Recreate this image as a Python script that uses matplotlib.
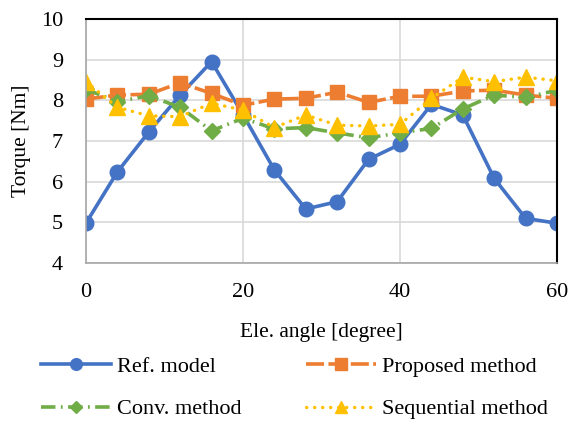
import numpy as np
import matplotlib
matplotlib.use("Agg")
import matplotlib.pyplot as plt

# data
angle = [0, 4, 8, 12, 16, 20, 24, 28, 32, 36, 40, 44, 48, 52, 56, 60]
ref_model = [4.98, 6.24, 7.22, 8.13, 8.95, 7.65, 6.29, 5.33, 5.51, 6.55, 6.92, 7.90, 7.64, 6.08, 5.10, 4.98]
proposed = [8.03, 8.13, 8.15, 8.43, 8.17, 7.88, 8.03, 8.05, 8.20, 7.95, 8.10, 8.10, 8.23, 8.25, 8.13, 8.05]
conv = [8.27, 7.97, 8.11, 7.83, 7.25, 7.56, 7.30, 7.33, 7.20, 7.08, 7.20, 7.31, 7.79, 8.13, 8.07, 8.25]
sequential = [8.46, 7.83, 7.62, 7.60, 7.93, 7.76, 7.33, 7.64, 7.39, 7.37, 7.41, 8.05, 8.57, 8.46, 8.57, 8.48]

x_ticks = [0, 20, 40, 60]
y_ticks = [4, 5, 6, 7, 8, 9, 10]

plt.rcParams['font.family'] = ['Liberation Serif', 'DejaVu Serif']
plt.rcParams['font.size'] = 16

fig = plt.figure(figsize=(5.69, 4.21), dpi=100)
ax = fig.add_axes([0.151, 0.375, 0.828, 0.580])

l1, = ax.plot(angle, ref_model, color='#4472c4', lw=2.6, marker='o', ms=10.5,
              label='Ref. model')
l2, = ax.plot(angle, proposed, color='#ed7d31', lw=2.6, marker='s', ms=10,
              dashes=(5, 1.2), label='Proposed method')
l3, = ax.plot(angle, conv, color='#70ad47', lw=2.6, marker='D', ms=8,
              dashes=(4, 1.5, 0.5, 1.5), label='Conv. method')
l4, = ax.plot(angle, sequential, color='#ffc000', lw=2.4, marker='^', ms=11,
              linestyle=(0, (0.1, 2.3)), dash_capstyle='round', label='Sequential method')

ax.set_xlim(0, 60)
ax.set_ylim(4, 10)
ax.set_xticks(x_ticks)
ax.set_yticks(y_ticks)
ax.grid(True, color='#d9d9d9', lw=1.2)
ax.set_axisbelow(True)
ax.tick_params(axis='y', length=0, pad=16.5)
ax.tick_params(axis='x', length=0, pad=14.5)

for s in ['top', 'right']:
    ax.spines[s].set_color('black')
    ax.spines[s].set_linewidth(1.5)
for s in ['left', 'bottom']:
    ax.spines[s].set_color('#a6a6a6')
    ax.spines[s].set_linewidth(1.2)

ax.set_xlabel('Ele. angle [degree]', fontsize=15.5)
ax.set_ylabel('Torque [Nm]', fontsize=15.5)
ax.xaxis.set_label_coords(0.5, -0.283)
ax.xaxis.label.set_va('center')
ax.yaxis.set_label_coords(-0.136, 0.5)
ax.yaxis.label.set_va('center')

# row order: Ref, Proposed / Conv, Sequential
fig.legend([l1, l3, l2, l4], [l.get_label() for l in [l1, l3, l2, l4]],
           loc='center left', bbox_to_anchor=(0.072, 0.0784), ncol=2,
           frameon=False, handlelength=3.15, columnspacing=2.9,
           handletextpad=0.27, labelspacing=0.98, borderaxespad=0,
           borderpad=0, markerscale=0.8)

fig.savefig('out.png', dpi=100)
